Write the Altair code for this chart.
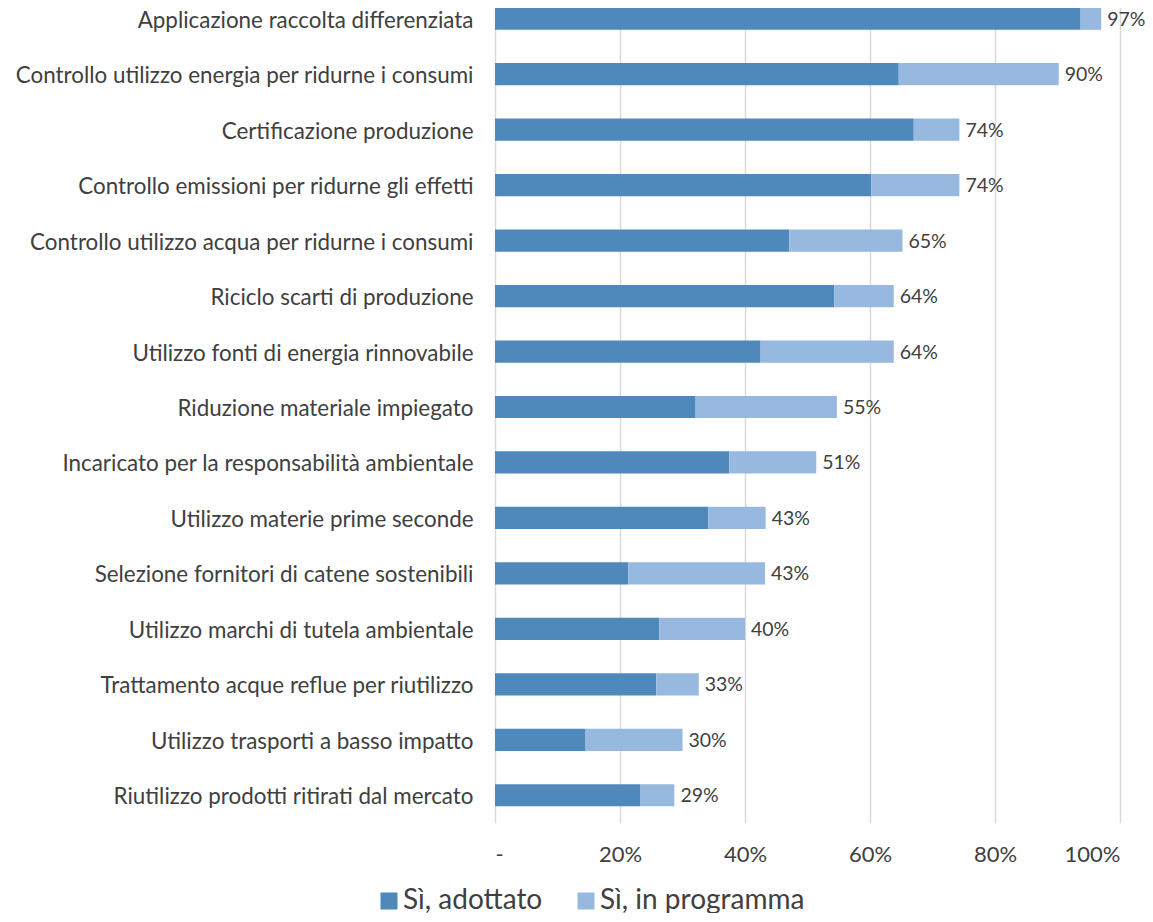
import altair as alt
import pandas as pd

categories = [
    "Applicazione raccolta differenziata",
    "Controllo utilizzo energia per ridurne i consumi",
    "Certificazione produzione",
    "Controllo emissioni per ridurne gli effetti",
    "Controllo utilizzo acqua per ridurne i consumi",
    "Riciclo scarti di produzione",
    "Utilizzo fonti di energia rinnovabile",
    "Riduzione materiale impiegato",
    "Incaricato per la responsabilità ambientale",
    "Utilizzo materie prime seconde",
    "Selezione fornitori di catene sostenibili",
    "Utilizzo marchi di tutela ambientale",
    "Trattamento acque reflue per riutilizzo",
    "Utilizzo trasporti a basso impatto",
    "Riutilizzo prodotti ritirati dal mercato",
]
adottato = [93.7, 64.6, 67.0, 60.2, 47.1, 54.3, 42.5, 32.1, 37.5, 34.1, 21.3, 26.3, 25.8, 14.5, 23.2]
in_programma = [3.3, 25.6, 7.3, 14.1, 18.1, 9.5, 21.3, 22.6, 13.9, 9.2, 21.9, 13.7, 6.8, 15.5, 5.5]
total_labels = ["97%", "90%", "74%", "74%", "65%", "64%", "64%", "55%", "51%", "43%", "43%", "40%", "33%", "30%", "29%"]
series_names = ["Sì, adottato", "Sì, in programma"]
series_colors = ["#4f89bc", "#98b9df"]
tick_values = [0, 0.2, 0.4, 0.6, 0.8, 1.0]

rows = []
for c, a, p in zip(categories, adottato, in_programma):
    rows.append({"cat": c, "series": series_names[0], "val": a / 100, "ord": 0})
    rows.append({"cat": c, "series": series_names[1], "val": p / 100, "ord": 1})
df = pd.DataFrame(rows)

df_tot = pd.DataFrame({
    "cat": categories,
    "tot": [(a + p) / 100 for a, p in zip(adottato, in_programma)],
    "label": total_labels,
})

FONT = "Lato"
TXT = "#404040"

yenc = alt.Y(
    "cat:N", sort=categories, title=None,
    scale=alt.Scale(paddingInner=0.6, paddingOuter=0.3),
    axis=alt.Axis(ticks=False, domain=False, labelFontSize=22.4, labelColor=TXT,
                  labelFont=FONT, labelPadding=22, labelLimit=700, labelOffset=2),
)
xscale = alt.Scale(domain=[0, 1], nice=False)

bars = alt.Chart(df).mark_bar().encode(
    y=yenc,
    x=alt.X("val:Q", stack="zero", scale=xscale, title=None,
            axis=alt.Axis(values=tick_values, grid=True, gridColor="#d9d9d9", gridWidth=1.5,
                          domain=False, ticks=False, labelPadding=21, labelFontSize=22,
                          labelFont=FONT, labelColor=TXT,
                          labelExpr="datum.value == 0 ? '-' : format(datum.value, '.0%')")),
    color=alt.Color("series:N", scale=alt.Scale(domain=series_names, range=series_colors),
                    legend=alt.Legend(title=None, orient="none", direction="horizontal",
                                      legendX=-120, legendY=896, symbolType="square",
                                      symbolSize=289, symbolStrokeWidth=0,
                                      labelFontSize=28, labelFont=FONT, labelColor=TXT,
                                      labelLimit=500, columnPadding=29, labelOffset=0)),
    order=alt.Order("ord:Q"),
)

labels = alt.Chart(df_tot).mark_text(align="left", baseline="middle", dx=6, dy=1,
                                     fontSize=19.5, font=FONT, color=TXT).encode(
    y=alt.Y("cat:N", sort=categories),
    x=alt.X("tot:Q", scale=xscale),
    text="label:N",
)

chart = alt.layer(bars, labels).properties(
    width=625, height=832,
    autosize=alt.AutoSizeParams(type="none"),
    padding={"left": 487, "top": -17, "right": 25, "bottom": 90},
).configure_view(stroke=None)

chart.save("out.html", embed_options={"renderer": "svg", "actions": False})
